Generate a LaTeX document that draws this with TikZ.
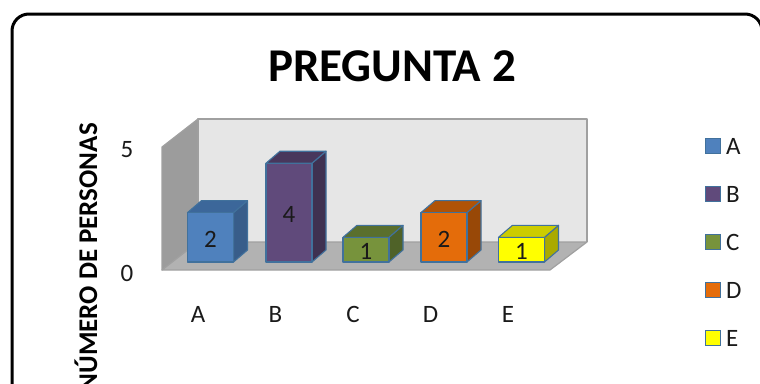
\documentclass[tikz,border=0pt]{standalone}
\usepackage{fontspec}
\setmainfont{Carlito}
\definecolor{aF}{HTML}{4F81BD}\definecolor{aS}{HTML}{385D8A}\definecolor{aT}{HTML}{3C679A}
\definecolor{bF}{HTML}{604A7B}\definecolor{bS}{HTML}{3F3151}\definecolor{bT}{HTML}{48375C}
\definecolor{cF}{HTML}{77933C}\definecolor{cS}{HTML}{4F6228}\definecolor{cT}{HTML}{5A6F2D}
\definecolor{dF}{HTML}{E46C0A}\definecolor{dS}{HTML}{984807}\definecolor{dT}{HTML}{B05307}
\definecolor{eF}{HTML}{FFFF00}\definecolor{eS}{HTML}{AAAA00}\definecolor{eT}{HTML}{CCCC00}
\definecolor{edgeC}{HTML}{41719C}
\definecolor{wallBack}{HTML}{E6E6E6}
\definecolor{wallLeft}{HTML}{9C9C9C}
\definecolor{floorC}{HTML}{B2B2B2}
\definecolor{wallEdge}{HTML}{A0A0A0}
\definecolor{txtC}{HTML}{1A1A1A}
\begin{document}
\begin{tikzpicture}[x=1pt,y=-1pt,
  barface/.style={draw=edgeC,line width=1.1pt,line join=round},
  wall/.style={draw=wallEdge,line width=1.2pt,line join=round},
  lab/.style={font=\fontsize{25}{27}\selectfont,text=txtC,inner sep=0pt},
  legbox/.style={draw=edgeC,line width=1.3pt,minimum size=15pt,inner sep=0pt}]
\useasboundingbox (0,0) rectangle (760,383);
\begin{scope}
\clip (0,0) rectangle (760,383);
% frame
\draw[line width=3pt,rounded corners=17pt] (12,14) rectangle (762,420);
% title
\node[font=\bfseries\fontsize{47}{52}\selectfont,inner sep=0pt] (title) at (392,66) {PREGUNTA 2};
% walls
\fill[wallBack] (198,119) rectangle (587,242);
\draw[wall] (198,242) -- (198,119) -- (587,119) -- (587,242);
\draw[line width=2pt,draw=wallEdge] (198,119) -- (587,119);
\filldraw[wall,fill=wallLeft] (162,147) -- (198,119) -- (198,242) -- (162,270) -- cycle;
\filldraw[wall,fill=floorC] (162,270) -- (198,242) -- (587,242) -- (550,270) -- cycle;
% axis
\node[font=\bfseries\fontsize{27}{29}\selectfont,rotate=90,anchor=east,inner sep=0pt] (ytitle) at (86,123) {NÚMERO DE PERSONAS};
\node[lab] (y5) at (127,150) {5};
\node[lab] (y0) at (127,273) {0};
% bars
\foreach \cx/\v/\fc/\sc/\tc/\n in {210.5/2/aF/aS/aT/A, 289/4/bF/bS/bT/B, 366/1/cF/cS/cT/C, 444/2/dF/dS/dT/D, 521.5/1/eF/eS/eT/E}{
  \pgfmathsetmacro\ty{262-24.7*\v}
  \pgfmathsetmacro\xl{\cx-23}
  \pgfmathsetmacro\xr{\cx+23}
  \pgfmathsetmacro\xlb{\cx-9}
  \pgfmathsetmacro\xrb{\cx+37}
  \pgfmathsetmacro\tyb{\ty-12}
  \pgfmathsetmacro\my{(262+\ty)/2+2}
  \filldraw[barface,fill=\sc] (\xr,\ty) -- (\xrb,\tyb) -- (\xrb,250) -- (\xr,262) -- cycle;
  \filldraw[barface,fill=\tc] (\xl,\ty) -- (\xlb,\tyb) -- (\xrb,\tyb) -- (\xr,\ty) -- cycle;
  \filldraw[barface,fill=\fc] (\xl,262) rectangle (\xr,\ty);
  \node[lab] (val\n) at (\cx,\my) {\v};
}
% category labels
\foreach \x/\n in {198/A,275.5/B,353/C,430.5/D,508/E}{
  \node[lab] (cat\n) at (\x,314) {\n};
}
% legend
\foreach \y/\n/\fc in {146/A/aF,194/B/bF,242/C/cF,290/D/dF,338/E/eF}{
  \node[legbox,fill=\fc] (leg\n) at (713,\y) {};
  \node[lab,anchor=west] (legt\n) at (726,\y) {\n};
}
\end{scope}
\end{tikzpicture}
\end{document}
